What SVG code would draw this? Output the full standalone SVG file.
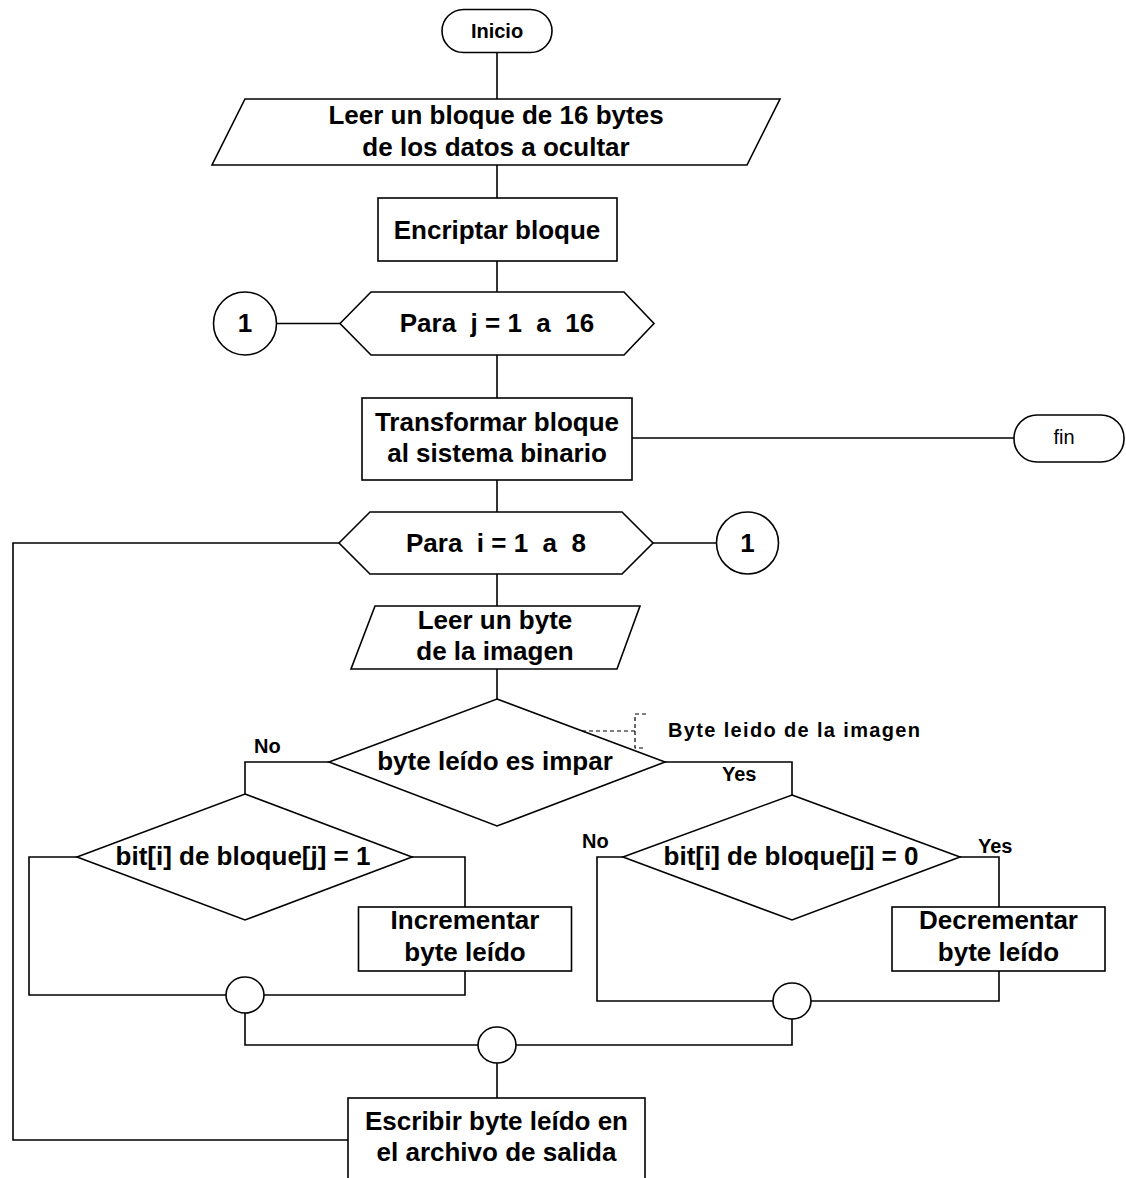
<svg xmlns="http://www.w3.org/2000/svg" width="1126" height="1178" viewBox="0 0 1126 1178">
  <style>
    .shape { fill: #ffffff; stroke: #000000; stroke-width: 1.6; }
    .wire { fill: none; stroke: #000000; stroke-width: 1.6; }
    .dash { fill: none; stroke: #000000; stroke-width: 1.2; stroke-dasharray: 4 3; }
    .t { font-family: "Liberation Sans", Arial, sans-serif; font-weight: bold; font-size: 26px; fill: #000000; text-anchor: middle; white-space: pre; }
    .small { font-size: 20px; }
    .lbl { font-family: "Liberation Sans", Arial, sans-serif; font-weight: bold; font-size: 20px; fill: #000000; }
    .plain { font-family: "Liberation Sans", Arial, sans-serif; font-size: 20px; fill: #000000; text-anchor: middle; }
  </style>
  <rect width="1126" height="1178" fill="#ffffff"/>

  <!-- connectors -->
  <g id="connectors">
    <path class="wire" d="M497 53 V99"/>
    <path class="wire" d="M497 165 V198"/>
    <path class="wire" d="M497 261 V292"/>
    <path class="wire" d="M277 323.5 H340"/>
    <path class="wire" d="M497 355 V398"/>
    <path class="wire" d="M632 438 H1014"/>
    <path class="wire" d="M497 480 V512"/>
    <path class="wire" d="M653 543 H717"/>
    <path class="wire" d="M339 543 H13 V1140 H348"/>
    <path class="wire" d="M497 574 V606"/>
    <path class="wire" d="M497 669 V699"/>
    <path class="wire" d="M329 762 H245 V794"/>
    <path class="wire" d="M665 762 H792 V795"/>
    <path class="wire" d="M77 857 H29 V995 H226"/>
    <path class="wire" d="M412 857 H465 V907"/>
    <path class="wire" d="M465 971 V995 H264"/>
    <path class="wire" d="M623 857 H597 V1001 H773"/>
    <path class="wire" d="M960 857 H999 V907"/>
    <path class="wire" d="M999 971 V1001 H811"/>
    <path class="wire" d="M245 1013 V1045 H478"/>
    <path class="wire" d="M792 1019 V1045 H516"/>
    <path class="wire" d="M497 1063 V1098"/>
  </g>

  <g id="inicio">
    <rect class="shape" x="442" y="9.5" width="110" height="43" rx="21.5"/>
    <text class="t small" x="497" y="38">Inicio</text>
  </g>

  <g id="leer-bloque">
    <polygon class="shape" points="245,99 780,99 747,165 212,165"/>
    <text class="t" x="496" y="124">Leer un bloque de 16 bytes</text>
    <text class="t" x="496" y="156">de los datos a ocultar</text>
  </g>

  <g id="encriptar">
    <rect class="shape" x="378" y="198" width="239" height="63"/>
    <text class="t" x="497" y="239">Encriptar bloque</text>
  </g>

  <g id="conector-1-izq">
    <circle class="shape" cx="245" cy="323.5" r="31.5"/>
    <text class="t" x="245" y="332">1</text>
  </g>

  <g id="para-j">
    <polygon class="shape" points="340,323.5 371,292 624,292 654,323.5 624,355 371,355"/>
    <text class="t" x="497" y="332">Para  j = 1  a  16</text>
  </g>

  <g id="transformar">
    <rect class="shape" x="362" y="398" width="270" height="82"/>
    <text class="t" x="497" y="431">Transformar bloque</text>
    <text class="t" x="497" y="462">al sistema binario</text>
  </g>

  <g id="fin">
    <rect class="shape" x="1014" y="415" width="110" height="47" rx="23"/>
    <text class="plain" x="1064" y="444">fin</text>
  </g>

  <g id="para-i">
    <polygon class="shape" points="339,543 370,512 622,512 653,543 622,574 370,574"/>
    <text class="t" x="496" y="552">Para  i = 1  a  8</text>
  </g>

  <g id="conector-1-der">
    <circle class="shape" cx="747.5" cy="543" r="31"/>
    <text class="t" x="747.5" y="552">1</text>
  </g>

  <g id="leer-byte">
    <polygon class="shape" points="375,606 640,606 617,669 351,669"/>
    <text class="t" x="495" y="629">Leer un byte</text>
    <text class="t" x="495" y="660">de la imagen</text>
  </g>

  <g id="impar">
    <polygon class="shape" points="497,699 665,762 497,826 329,762"/>
    <text class="t" x="495" y="770">byte leído es impar</text>
    <text class="lbl" x="254" y="753">No</text>
    <text class="lbl" x="722" y="781">Yes</text>
  </g>

  <g id="nota">
    <path class="dash" d="M582 731 H635 M646 714 H635 V748 H646"/>
    <text class="lbl" x="668" y="737" textLength="252" lengthAdjust="spacing">Byte leido de la imagen</text>
  </g>

  <g id="bit-uno">
    <polygon class="shape" points="245,794 412,857 245,920 77,857"/>
    <text class="t" x="243" y="865">bit[i] de bloque[j] = 1</text>
  </g>

  <g id="incrementar">
    <rect class="shape" x="358.5" y="907" width="213" height="64"/>
    <text class="t" x="465" y="929">Incrementar</text>
    <text class="t" x="465" y="961">byte leído</text>
  </g>

  <g id="bit-cero">
    <polygon class="shape" points="792,795 960,857 792,920 623,857"/>
    <text class="t" x="791" y="865">bit[i] de bloque[j] = 0</text>
    <text class="lbl" x="582" y="848">No</text>
    <text class="lbl" x="978" y="853">Yes</text>
  </g>

  <g id="decrementar">
    <rect class="shape" x="892" y="907" width="213" height="64"/>
    <text class="t" x="998.5" y="929">Decrementar</text>
    <text class="t" x="998.5" y="961">byte leído</text>
  </g>

  <g id="union-izq">
    <ellipse class="shape" cx="245" cy="995" rx="19" ry="18"/>
  </g>

  <g id="union-der">
    <ellipse class="shape" cx="792" cy="1001" rx="19" ry="18"/>
  </g>

  <g id="union-central">
    <ellipse class="shape" cx="497" cy="1045" rx="19" ry="18"/>
  </g>

  <g id="escribir">
    <rect class="shape" x="348" y="1098" width="297" height="100"/>
    <text class="t" x="496.5" y="1130">Escribir byte leído en</text>
    <text class="t" x="496.5" y="1161">el archivo de salida</text>
  </g>
</svg>
